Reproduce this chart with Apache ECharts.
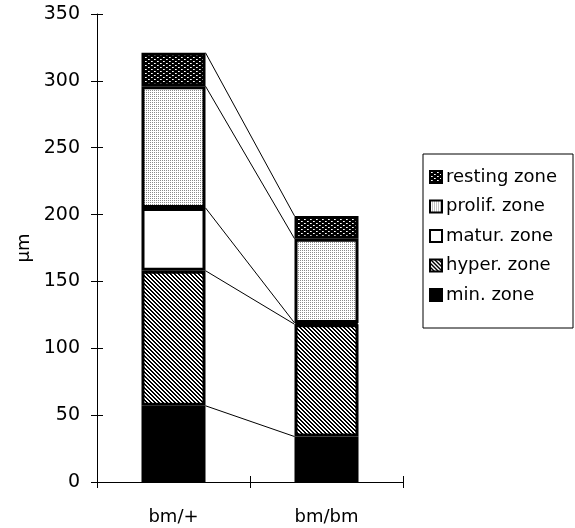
<!DOCTYPE html>
<html>
<head>
<meta charset="utf-8">
<script src="https://cdn.jsdelivr.net/npm/echarts@6/dist/echarts.min.js"></script>
<style>html,body{margin:0;padding:0;background:#fff}#c{width:575px;height:528px}</style>
</head>
<body>
<div id="c"></div>
<script>
// ---- data ----
var categories = ['bm/+', 'bm/bm'];
var zoneNames = ['min. zone', 'hyper. zone', 'matur. zone', 'prolif. zone', 'resting zone'];
var minZone = [57, 34];
var hyperZone = [101, 84];
var maturZone = [47, 1];
var prolifZone = [91, 63];
var restingZone = [25, 17];
var yTicks = [0, 50, 100, 150, 200, 250, 300, 350];

// ---- patterns ----
function tile(w, h, draw) {
  var c = document.createElement('canvas');
  c.width = w; c.height = h;
  var ctx = c.getContext('2d');
  draw(ctx);
  return { image: c, repeat: 'repeat' };
}
var restingFill = tile(6, 4, function (ctx) {
  ctx.fillStyle = '#000'; ctx.fillRect(0, 0, 6, 4);
  ctx.fillStyle = '#fff'; ctx.fillRect(1, 1, 1, 1); ctx.fillRect(4, 3, 1, 1);
  ctx.fillStyle = '#bbb'; ctx.fillRect(2, 1, 1, 1); ctx.fillRect(5, 3, 1, 1);
});
var prolifFill = tile(2, 2, function (ctx) {
  ctx.fillStyle = '#fff'; ctx.fillRect(0, 0, 2, 2);
  ctx.fillStyle = '#8a8a8a'; ctx.fillRect(0, 0, 1, 1);
});
var hyperFill = tile(4, 4, function (ctx) {
  ctx.fillStyle = '#fff'; ctx.fillRect(0, 0, 4, 4);
  ctx.fillStyle = '#000';
  for (var y = 0; y < 4; y++) for (var x = 0; x < 4; x++) {
    var d = ((x - y) % 4 + 4) % 4;
    if (d === 0 || d === 1) ctx.fillRect(x, y, 1, 1);
  }
});
var fills = ['#000', hyperFill, '#fff', prolifFill, restingFill];
var zoneValues = [minZone, hyperZone, maturZone, prolifZone, restingZone];

// cumulative tops for connector lines
var connectors = [];
var cumA = 0, cumB = 0;
for (var i = 0; i < zoneValues.length; i++) {
  cumA += zoneValues[i][0];
  cumB += zoneValues[i][1];
  connectors.push([0, cumA, cumB]);
}

var BAR_W = 64;
var FONT = 'DejaVu Sans';

var series = zoneValues.map(function (vals, i) {
  return {
    name: zoneNames[i],
    type: 'bar',
    stack: 'z',
    barWidth: BAR_W,
    data: vals,
    itemStyle: { color: fills[i], borderColor: '#000', borderWidth: 3 },
    emphasis: { disabled: true },
    z: 3
  };
});
series.push({
  type: 'custom',
  name: 'connectors',
  data: connectors,
  encode: { x: 0, y: 1 },
  silent: true,
  z: 2,
  renderItem: function (params, api) {
    var p1 = api.coord([0, api.value(1)]);
    var p2 = api.coord([1, api.value(2)]);
    return {
      type: 'line',
      shape: { x1: p1[0] + BAR_W / 2, y1: p1[1], x2: p2[0] - BAR_W / 2, y2: p2[1] },
      style: { stroke: '#000', lineWidth: 1 }
    };
  }
});

var chart = echarts.init(document.getElementById('c'), null, { renderer: 'canvas' });
chart.setOption({
  animation: false,
  backgroundColor: '#fff',
  grid: { left: 97, right: 172, top: 14, bottom: 46 },
  legend: {
    orient: 'vertical',
    left: 423, top: 154,
    data: zoneNames.slice().reverse(),
    itemWidth: 12, itemHeight: 12, itemGap: 11.5,
    padding: [14, 16, 24, 6],
    borderColor: '#000', borderWidth: 1,
    icon: 'rect',
    itemStyle: { borderWidth: 2, borderColor: '#000' },
    textStyle: { fontFamily: FONT, fontSize: 18, color: '#000', padding: [0, 0, 0, -1] },
    selectedMode: false
  },
  xAxis: [{
    type: 'category', data: categories,
    axisLine: { lineStyle: { color: '#000', width: 1 } },
    axisTick: { show: true, length: 6, lineStyle: { color: '#000' } },
    axisLabel: { fontFamily: FONT, fontSize: 18, color: '#000', margin: 26 },
    splitLine: { show: false }
  }, {
    type: 'category', data: categories, position: 'bottom', gridIndex: 0,
    axisLine: { show: false },
    axisTick: { show: true, inside: true, length: 6, lineStyle: { color: '#000' } },
    axisLabel: { show: false }, splitLine: { show: false }
  }],
  yAxis: [{
    type: 'value', min: 0, max: 350, interval: 50, position: 'left',
    name: 'µm', nameLocation: 'middle', nameGap: 64,
    nameTextStyle: { fontFamily: FONT, fontSize: 18, color: '#000' },
    axisLine: { show: true, lineStyle: { color: '#000', width: 1 } },
    axisTick: { show: true, length: 6, lineStyle: { color: '#000' } },
    axisLabel: {
      fontFamily: FONT, fontSize: 19, color: '#000', margin: 17,
      formatter: function (v) { return yTicks.indexOf(v) >= 0 ? String(v) : ''; }
    },
    splitLine: { show: false }
  }, {
    type: 'value', min: 0, max: 350, interval: 50, position: 'left',
    axisLine: { show: false },
    axisTick: { show: true, inside: true, length: 6, lineStyle: { color: '#000' } },
    axisLabel: { show: false }, splitLine: { show: false }
  }],
  series: series
});
</script>
</body>
</html>
